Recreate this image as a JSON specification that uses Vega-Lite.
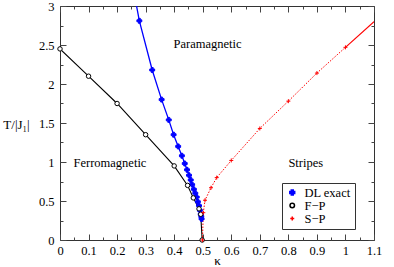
{
  "$schema": "https://vega.github.io/schema/vega-lite/v6.json",
  "width": 314,
  "height": 234,
  "autosize": {"type": "none"},
  "padding": {"left": 60, "top": 6, "right": 20, "bottom": 27},
  "background": "white",
  "config": {
    "font": "Liberation Serif",
    "view": {"stroke": "#333", "strokeWidth": 1},
    "axis": {
      "grid": false,
      "domain": false,
      "ticks": true,
      "labelFont": "Liberation Serif",
      "labelFontSize": 12.5,
      "labelColor": "#000",
      "tickColor": "#444",
      "tickWidth": 1,
      "titleFont": "Liberation Serif",
      "titleFontWeight": "normal",
      "titleFontSize": 13,
      "titleColor": "#000",
      "labelFlush": false,
      "labelOverlap": false
    },
    "legend": {
      "labelFont": "Liberation Serif",
      "labelFontSize": 12.5,
      "labelColor": "#000",
      "strokeColor": "#333",
      "fillColor": "white",
      "padding": 4,
      "rowPadding": 0,
      "clipHeight": 11,
      "labelOffset": 6
    },
    "text": {"font": "Liberation Serif"}
  },
  "datasets": {
    "pts": [
      {"series": "DL exact", "kappa": 0.262, "T": 3.12},
      {"series": "DL exact", "kappa": 0.278, "T": 2.81},
      {"series": "DL exact", "kappa": 0.323, "T": 2.18},
      {"series": "DL exact", "kappa": 0.356, "T": 1.80},
      {"series": "DL exact", "kappa": 0.381, "T": 1.54},
      {"series": "DL exact", "kappa": 0.398, "T": 1.35},
      {"series": "DL exact", "kappa": 0.414, "T": 1.20},
      {"series": "DL exact", "kappa": 0.427, "T": 1.08},
      {"series": "DL exact", "kappa": 0.437, "T": 0.98},
      {"series": "DL exact", "kappa": 0.445, "T": 0.90},
      {"series": "DL exact", "kappa": 0.452, "T": 0.83},
      {"series": "DL exact", "kappa": 0.458, "T": 0.77},
      {"series": "DL exact", "kappa": 0.463, "T": 0.71},
      {"series": "DL exact", "kappa": 0.469, "T": 0.65},
      {"series": "DL exact", "kappa": 0.474, "T": 0.60},
      {"series": "DL exact", "kappa": 0.479, "T": 0.55},
      {"series": "DL exact", "kappa": 0.483, "T": 0.49},
      {"series": "DL exact", "kappa": 0.487, "T": 0.44},
      {"series": "DL exact", "kappa": 0.490, "T": 0.38},
      {"series": "DL exact", "kappa": 0.493, "T": 0.33},
      {"series": "DL exact", "kappa": 0.495, "T": 0.30},
      {"series": "DL exact", "kappa": 0.496, "T": 0.27},
      {"series": "F−P", "kappa": 0.0, "T": 2.45},
      {"series": "F−P", "kappa": 0.1, "T": 2.10},
      {"series": "F−P", "kappa": 0.2, "T": 1.75},
      {"series": "F−P", "kappa": 0.3, "T": 1.35},
      {"series": "F−P", "kappa": 0.4, "T": 0.95},
      {"series": "F−P", "kappa": 0.447, "T": 0.70},
      {"series": "F−P", "kappa": 0.467, "T": 0.54},
      {"series": "F−P", "kappa": 0.487, "T": 0.40},
      {"series": "F−P", "kappa": 0.493, "T": 0.33},
      {"series": "F−P", "kappa": 0.498, "T": 0.0},
      {"series": "S−P", "kappa": 0.499, "T": 0.0},
      {"series": "S−P", "kappa": 0.502, "T": 0.35},
      {"series": "S−P", "kappa": 0.508, "T": 0.51},
      {"series": "S−P", "kappa": 0.529, "T": 0.67},
      {"series": "S−P", "kappa": 0.549, "T": 0.80},
      {"series": "S−P", "kappa": 0.6, "T": 1.02},
      {"series": "S−P", "kappa": 0.7, "T": 1.43},
      {"series": "S−P", "kappa": 0.8, "T": 1.78},
      {"series": "S−P", "kappa": 0.9, "T": 2.14},
      {"series": "S−P", "kappa": 1.0, "T": 2.47},
      {"series": "fit", "kappa": 1.0, "T": 2.47},
      {"series": "fit", "kappa": 1.1, "T": 2.80}
    ],
    "labels": [
      {"label": "Paramagnetic", "kappa": 0.517, "T": 2.51},
      {"label": "Ferromagnetic", "kappa": 0.175, "T": 0.99},
      {"label": "Stripes", "kappa": 0.861, "T": 0.99}
    ]
  },
  "layer": [
    {
      "data": {"name": "pts"},
      "transform": [{"filter": "datum.series == 'F−P'"}],
      "mark": {"type": "line", "clip": true, "strokeWidth": 1.1, "color": "#000000"},
      "encoding": {
        "x": {
          "field": "kappa", "type": "quantitative",
          "scale": {"domain": [0, 1.1], "nice": false, "zero": false},
          "axis": {
            "orient": "bottom",
            "title": "κ",
            "values": [0, 0.1, 0.2, 0.3, 0.4, 0.5, 0.6, 0.7, 0.8, 0.9, 1, 1.1],
            "offset": -6,
            "tickSize": 6,
            "labelExpr": "toString(round(datum.value*10)/10)",
            "labelPadding": 4,
            "titleBaseline": "alphabetic",
            "titleY": 30
          }
        },
        "y": {
          "field": "T", "type": "quantitative",
          "scale": {"domain": [0, 3], "nice": false},
          "axis": {
            "orient": "left",
            "title": "T/|J₁|",
            "values": [0, 0.5, 1, 1.5, 2, 2.5, 3],
            "offset": -6,
            "tickSize": 6,
            "labelExpr": "toString(round(datum.value*2)/2)",
            "labelPadding": 6,
            "titleAngle": 0,
            "titleAlign": "center",
            "titleBaseline": "middle",
            "titleX": -50,
            "titleY": 118
          }
        },
        "order": {"field": "T", "type": "quantitative"}
      }
    },
    {
      "data": {"name": "pts"},
      "transform": [{"filter": "datum.series == 'DL exact'"}],
      "mark": {"type": "line", "clip": true, "strokeWidth": 1.3, "color": "#0000ff"},
      "encoding": {
        "x": {"field": "kappa", "type": "quantitative", "axis": null},
        "y": {"field": "T", "type": "quantitative", "axis": null},
        "order": {"field": "T", "type": "quantitative"}
      }
    },
    {
      "data": {"name": "pts"},
      "transform": [{"filter": "datum.series == 'S−P'"}],
      "mark": {"type": "line", "clip": true, "strokeWidth": 1, "color": "#ff0000", "strokeDash": [1.5, 1.5]},
      "encoding": {
        "x": {"field": "kappa", "type": "quantitative", "axis": null},
        "y": {"field": "T", "type": "quantitative", "axis": null},
        "order": {"field": "T", "type": "quantitative"}
      }
    },
    {
      "data": {"name": "pts"},
      "transform": [{"filter": "datum.series == 'fit'"}],
      "mark": {"type": "line", "clip": true, "strokeWidth": 1.2, "color": "#ff0000"},
      "encoding": {
        "x": {"field": "kappa", "type": "quantitative", "axis": null},
        "y": {"field": "T", "type": "quantitative", "axis": null}
      }
    },
    {
      "data": {"name": "pts"},
      "transform": [{"filter": "datum.series != 'fit' && datum.T <= 3"}],
      "mark": {"type": "point", "filled": false, "opacity": 1, "strokeWidth": 1},
      "encoding": {
        "x": {"field": "kappa", "type": "quantitative", "axis": null},
        "y": {"field": "T", "type": "quantitative", "axis": null},
        "stroke": {
          "field": "series", "type": "nominal",
          "scale": {"domain": ["DL exact", "F−P", "S−P"], "range": ["#0000ff", "#000000", "#ff0000"]},
          "legend": {
            "title": null,
            "orient": "none",
            "legendX": 222,
            "legendY": 177
          }
        },
        "fill": {
          "field": "series", "type": "nominal",
          "scale": {"domain": ["DL exact", "F−P", "S−P"], "range": ["#0000ff", "#ffffff", "#ff0000"]}
        },
        "shape": {
          "field": "series", "type": "nominal",
          "scale": {"domain": ["DL exact", "F−P", "S−P"], "range": ["cross", "circle", "M-1,0H1M0,-1V1"]}
        },
        "size": {
          "field": "series", "type": "nominal",
          "scale": {"domain": ["DL exact", "F−P", "S−P"], "range": [24, 16, 36]}
        }
      }
    },
    {
      "data": {"name": "labels"},
      "mark": {"type": "text", "fontSize": 12.5, "color": "#000", "align": "center", "baseline": "middle"},
      "encoding": {
        "x": {"field": "kappa", "type": "quantitative", "axis": null},
        "y": {"field": "T", "type": "quantitative", "axis": null},
        "text": {"field": "label", "type": "nominal"}
      }
    },
    {
      "data": {"name": "pts"},
      "mark": {"type": "point", "opacity": 0},
      "encoding": {
        "x": {
          "field": "kappa", "type": "quantitative",
          "axis": {"orient": "top", "title": null, "labels": false, "values": [0, 0.1, 0.2, 0.3, 0.4, 0.5, 0.6, 0.7, 0.8, 0.9, 1, 1.1], "offset": -6, "tickSize": 6}
        },
        "y": {
          "field": "T", "type": "quantitative",
          "axis": {"orient": "right", "title": null, "labels": false, "values": [0, 0.5, 1, 1.5, 2, 2.5, 3], "offset": -6, "tickSize": 6}
        }
      }
    },
    {
      "data": {"name": "pts"},
      "mark": {"type": "point", "opacity": 0},
      "encoding": {
        "x": {
          "field": "kappa", "type": "quantitative",
          "axis": {"orient": "bottom", "title": null, "labels": false, "values": [0.05, 0.15, 0.25, 0.35, 0.45, 0.55, 0.65, 0.75, 0.85, 0.95, 1.05], "offset": -3, "tickSize": 3}
        },
        "y": {
          "field": "T", "type": "quantitative",
          "axis": {"orient": "left", "title": null, "labels": false, "values": [0.25, 0.75, 1.25, 1.75, 2.25, 2.75], "offset": -3, "tickSize": 3}
        }
      }
    },
    {
      "data": {"name": "pts"},
      "mark": {"type": "point", "opacity": 0},
      "encoding": {
        "x": {
          "field": "kappa", "type": "quantitative",
          "axis": {"orient": "top", "title": null, "labels": false, "values": [0.05, 0.15, 0.25, 0.35, 0.45, 0.55, 0.65, 0.75, 0.85, 0.95, 1.05], "offset": -3, "tickSize": 3}
        },
        "y": {
          "field": "T", "type": "quantitative",
          "axis": {"orient": "right", "title": null, "labels": false, "values": [0.25, 0.75, 1.25, 1.75, 2.25, 2.75], "offset": -3, "tickSize": 3}
        }
      }
    }
  ],
  "resolve": {"axis": {"x": "independent", "y": "independent"}}
}
